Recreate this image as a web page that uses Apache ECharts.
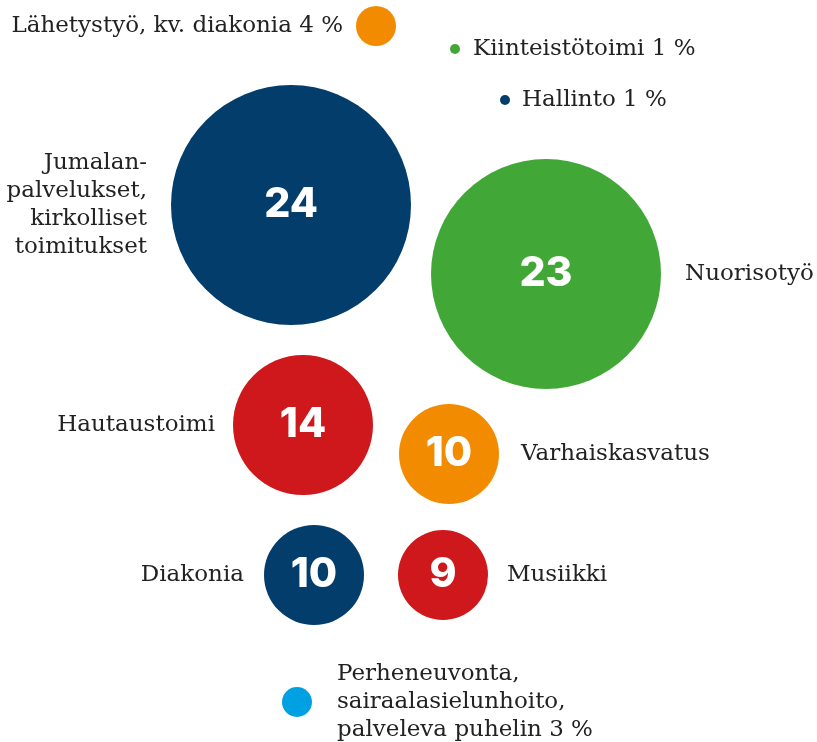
<!DOCTYPE html>
<html>
<head>
<meta charset="utf-8">
<script src="https://cdn.jsdelivr.net/npm/echarts@6/dist/echarts.min.js"></script>
<style>
  html, body { margin: 0; padding: 0; background: #fff; }
  #chart { width: 817px; height: 742px; }
</style>
</head>
<body>
<div id="chart"></div>
<script>
// menot tehtävittäin, prosenttia
const names = [
  'Jumalan-\npalvelukset,\nkirkolliset\ntoimitukset',
  'Nuorisotyö',
  'Hautaustoimi',
  'Varhaiskasvatus',
  'Diakonia',
  'Musiikki',
  'Lähetystyö, kv. diakonia',
  'Perheneuvonta,\nsairaalasielunhoito,\npalveleva puhelin',
  'Kiinteistötoimi',
  'Hallinto'
];
const values = [24, 23, 14, 10, 10, 9, 4, 3, 1, 1];

// kuplien paikat (piirtoalueen yksiköissä) ja nimen puoli
const layoutX = [291, 546, 303, 449, 314, 443, 376, 297, 455, 505];
const layoutY = [205, 274, 425, 454, 575, 575, 26, 702, 49, 100];
const labelSide = ['left', 'right', 'left', 'right', 'left', 'right', 'left', 'right', 'right', 'right'];
const labelGap = [24, 24, 18, 22, 20, 19, 13, 25, 13, 12];

const navy = '#033d6c', green = '#41a736', red = '#cf181c', orange = '#f28b00', blue = '#00a0e3';
const colors = [navy, green, red, orange, navy, red, orange, blue, green, navy];

const chart = echarts.init(document.getElementById('chart'));

const bubbles = values.map((v, i) => ({
  name: names[i],
  value: [layoutX[i], layoutY[i], v],
  itemStyle: { color: colors[i] },
  label: { show: v >= 9 }
}));

const nameLabels = values.map((v, i) => ({
  name: names[i],
  value: [layoutX[i], layoutY[i], v],
  label: {
    position: labelSide[i],
    align: labelSide[i] === 'left' ? 'right' : 'left',
    distance: labelGap[i]
  }
}));

chart.setOption({
  animation: false,
  grid: { left: 0, right: 0, top: 0, bottom: 0 },
  xAxis: { type: 'value', min: 0, max: 817, show: false },
  yAxis: { type: 'value', min: 0, max: 742, inverse: true, show: false },
  series: [
    {
      type: 'scatter',
      data: bubbles,
      symbolSize: d => d[2] * 10,
      itemStyle: { opacity: 1 },
      label: {
        position: 'inside',
        formatter: p => p.value[2],
        color: '#fff',
        fontFamily: 'Inter',
        fontWeight: 800,
        fontSize: 41
      },
      emphasis: { disabled: true }
    },
    {
      type: 'scatter',
      data: nameLabels,
      symbolSize: d => d[2] * 10,
      itemStyle: { color: 'rgba(0,0,0,0)', opacity: 1 },
      z: 3,
      label: {
        show: true,
        formatter: p => p.value[2] < 5 ? p.name + ' ' + p.value[2] + ' %' : p.name,
        color: '#222',
        fontFamily: 'DejaVu Serif',
        fontSize: 23,
        lineHeight: 28
      },
      emphasis: { disabled: true }
    }
  ]
});
</script>
</body>
</html>
